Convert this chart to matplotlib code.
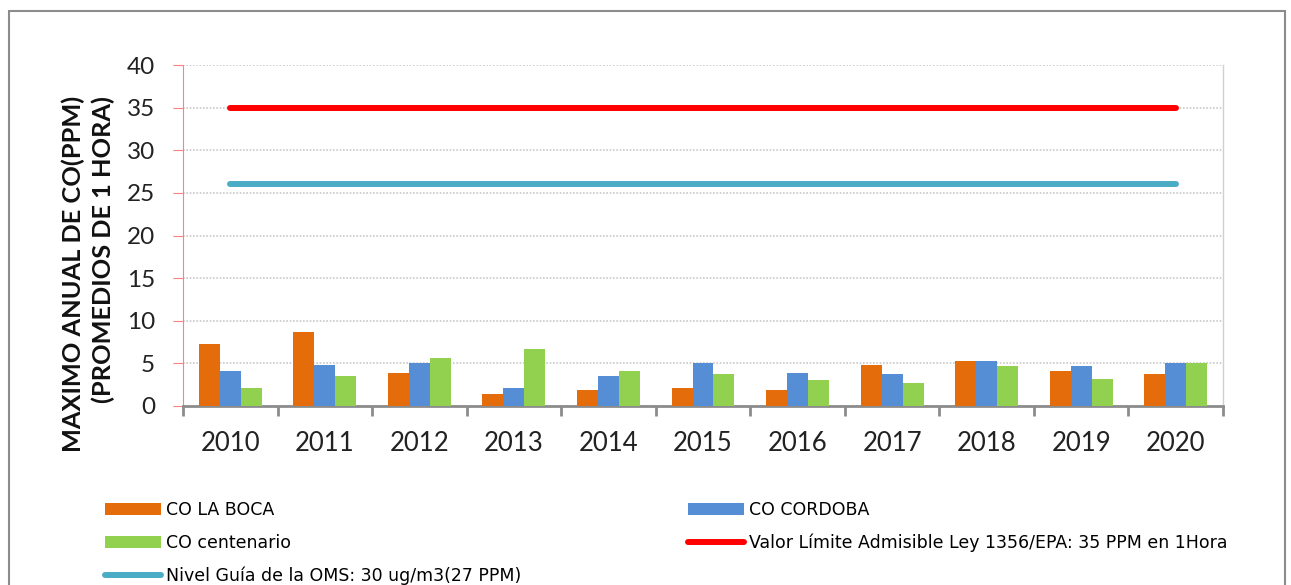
import matplotlib
matplotlib.use("Agg")
import matplotlib.pyplot as plt
from matplotlib.patches import Rectangle, Patch
from matplotlib.lines import Line2D
import numpy as np

years = ["2010", "2011", "2012", "2013", "2014", "2015", "2016", "2017", "2018", "2019", "2020"]
co_la_boca = [7.25, 8.7, 3.85, 1.35, 1.9, 2.15, 1.9, 4.85, 5.3, 4.15, 3.7]
co_cordoba = [4.05, 4.85, 5.1, 2.15, 3.5, 5.1, 3.85, 3.7, 5.3, 4.65, 5.1]
co_centenario = [2.15, 3.5, 5.6, 6.7, 4.15, 3.7, 3.0, 2.7, 4.65, 3.15, 5.1]
limite_epa = [35] * 11
guia_oms = [26] * 11

labels = ["CO LA BOCA", "CO CORDOBA", "CO centenario",
          "Valor Límite Admisible Ley 1356/EPA: 35 PPM en 1Hora",
          "Nivel Guía de la OMS: 30 ug/m3(27 PPM)"]
ylabel = "MAXIMO ANUAL DE CO(PPM)\n(PROMEDIOS DE 1 HORA)"

c_orange = "#E46C0A"
c_blue = "#558ED5"
c_green = "#92D050"
c_red = "#FF0000"
c_cyan = "#4BACC6"

W, H = 1291, 585
fig = plt.figure(figsize=(W / 100, H / 100), dpi=100)
fig.patch.set_facecolor("white")

# outer border
fig.patches.append(Rectangle((9 / W, -0.05), (1285 - 9) / W, 1.05 - 11 / H,
                             transform=fig.transFigure, fill=False,
                             edgecolor="#8c8c8c", linewidth=1.5))

ax = fig.add_axes([183 / W, 1 - 406 / H, (1223 - 183) / W, (406 - 65) / H])

x = np.arange(len(years))
bw = 0.222
ax.bar(x - bw, co_la_boca, bw, color=c_orange, zorder=3)
ax.bar(x, co_cordoba, bw, color=c_blue, zorder=3)
ax.bar(x + bw, co_centenario, bw, color=c_green, zorder=3)
ax.plot(x, limite_epa, color=c_red, lw=4.3, solid_capstyle="round", zorder=4)
ax.plot(x, guia_oms, color=c_cyan, lw=4.3, solid_capstyle="round", zorder=4)

ax.set_xlim(-0.5, len(years) - 0.5)
ax.set_ylim(0, 40)
ax.set_yticks(np.arange(0, 41, 5))
ax.yaxis.grid(True, color="#c8c8c8", linestyle=(0, (1, 1)), linewidth=1.2, zorder=0)

# x ticks: marks at boundaries, labels at centers
ax.set_xticks(np.arange(-0.5, len(years), 1.0))
ax.set_xticklabels([])
ax.set_xticks(x, minor=True)
ax.set_xticklabels(years, minor=True)
ax.tick_params(axis="x", which="major", length=7, width=2, color="#8c8c8c", direction="out")
ax.tick_params(axis="x", which="minor", length=0, pad=18, labelsize=18.5, labelcolor="#222222")
ax.tick_params(axis="y", length=7, width=0.8, color="#ff8080", direction="out", pad=13,
               labelsize=17.5, labelcolor="#222222")
for lab in ax.get_xticklabels(minor=True) + ax.get_yticklabels():
    lab.set_family("Lato")

ax.spines["top"].set_visible(False)
ax.spines["left"].set_color("#ff8080")
ax.spines["left"].set_linewidth(0.8)
ax.spines["right"].set_color("#d0d0d0")
ax.spines["right"].set_linewidth(1)
ax.spines["bottom"].set_color("#8c8c8c")
ax.spines["bottom"].set_linewidth(2)

fig.text(88 / W, 1 - 96 / H, ylabel, rotation=90, ha="center", va="top",
         multialignment="right", fontsize=18.3, fontweight="bold", family="Lato",
         color="#111111", linespacing=1.35)

h_boca = Patch(facecolor=c_orange)
h_cord = Patch(facecolor=c_blue)
h_cent = Patch(facecolor=c_green)
h_red = Line2D([], [], color=c_red, lw=4.3, solid_capstyle="round")
h_cyan = Line2D([], [], color=c_cyan, lw=4.3, solid_capstyle="round")

legfont = {"family": ["Liberation Sans Narrow", "DejaVu Sans"], "size": 12.5}
common = dict(frameon=False, borderpad=0, borderaxespad=0, handlelength=3.2,
              handleheight=0.7, handletextpad=0.3, labelspacing=0.85, prop=legfont,
              loc="upper left")
leg1 = fig.legend([h_boca, h_cent, h_cyan], [labels[0], labels[2], labels[4]],
                  bbox_to_anchor=(105 / W, 1 - 501 / H), **common)
leg2 = fig.legend([h_cord, h_red], [labels[1], labels[3]],
                  bbox_to_anchor=(688 / W, 1 - 501 / H), **common)

fig.savefig("out.png", dpi=100, facecolor="white")
